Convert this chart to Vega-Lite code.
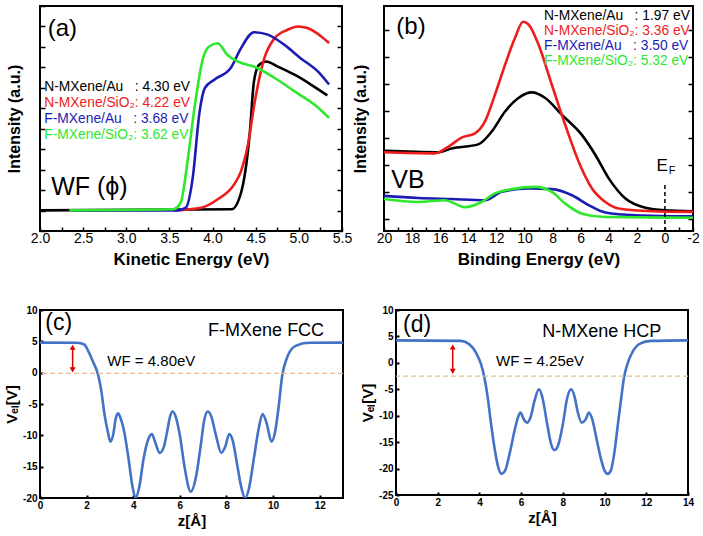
{
  "$schema": "https://vega.github.io/schema/vega-lite/v6.json",
  "padding": {"left": 3, "top": 4, "right": 2, "bottom": 2},
  "background": "white",
  "config": {
    "font": "Liberation Sans",
    "view": {"stroke": "black", "strokeWidth": 2},
    "axis": {"grid": false, "domain": false, "labelColor": "black", "titleColor": "black", "tickColor": "black", "labelFont": "Liberation Sans", "titleFont": "Liberation Sans", "labelOverlap": false, "labelFlush": false}
  },
  "datasets": {
    "wf": [
      {"series": "N-MXene/Au", "ke": 2.0, "intensity": 1.01},
      {"series": "N-MXene/Au", "ke": 4.22, "intensity": 1.06},
      {"series": "N-MXene/Au", "ke": 4.33, "intensity": 1.87},
      {"series": "N-MXene/Au", "ke": 4.43, "intensity": 4.72},
      {"series": "N-MXene/Au", "ke": 4.48, "intensity": 7.32},
      {"series": "N-MXene/Au", "ke": 4.54, "intensity": 8.13},
      {"series": "N-MXene/Au", "ke": 4.62, "intensity": 8.29},
      {"series": "N-MXene/Au", "ke": 4.75, "intensity": 8.05},
      {"series": "N-MXene/Au", "ke": 4.95, "intensity": 7.64},
      {"series": "N-MXene/Au", "ke": 5.14, "intensity": 7.16},
      {"series": "N-MXene/Au", "ke": 5.33, "intensity": 6.63},
      {"series": "N-MXene/SiO2", "ke": 3.55, "intensity": 1.01},
      {"series": "N-MXene/SiO2", "ke": 3.87, "intensity": 1.14},
      {"series": "N-MXene/SiO2", "ke": 4.06, "intensity": 1.55},
      {"series": "N-MXene/SiO2", "ke": 4.25, "intensity": 2.28},
      {"series": "N-MXene/SiO2", "ke": 4.33, "intensity": 2.93},
      {"series": "N-MXene/SiO2", "ke": 4.41, "intensity": 4.23},
      {"series": "N-MXene/SiO2", "ke": 4.49, "intensity": 6.34},
      {"series": "N-MXene/SiO2", "ke": 4.6, "intensity": 8.45},
      {"series": "N-MXene/SiO2", "ke": 4.72, "intensity": 9.43},
      {"series": "N-MXene/SiO2", "ke": 4.87, "intensity": 9.84},
      {"series": "N-MXene/SiO2", "ke": 4.99, "intensity": 10.0},
      {"series": "N-MXene/SiO2", "ke": 5.1, "intensity": 9.92},
      {"series": "N-MXene/SiO2", "ke": 5.26, "intensity": 9.51},
      {"series": "N-MXene/SiO2", "ke": 5.35, "intensity": 9.19},
      {"series": "F-MXene/Au", "ke": 2.35, "intensity": 1.01},
      {"series": "F-MXene/Au", "ke": 3.6, "intensity": 1.01},
      {"series": "F-MXene/Au", "ke": 3.69, "intensity": 1.14},
      {"series": "F-MXene/Au", "ke": 3.77, "intensity": 2.6},
      {"series": "F-MXene/Au", "ke": 3.85, "intensity": 5.85},
      {"series": "F-MXene/Au", "ke": 3.91, "intensity": 6.99},
      {"series": "F-MXene/Au", "ke": 4.02, "intensity": 7.4},
      {"series": "F-MXene/Au", "ke": 4.21, "intensity": 7.97},
      {"series": "F-MXene/Au", "ke": 4.33, "intensity": 8.94},
      {"series": "F-MXene/Au", "ke": 4.48, "intensity": 9.72},
      {"series": "F-MXene/Au", "ke": 4.64, "intensity": 9.6},
      {"series": "F-MXene/Au", "ke": 4.83, "intensity": 9.11},
      {"series": "F-MXene/Au", "ke": 5.02, "intensity": 8.45},
      {"series": "F-MXene/Au", "ke": 5.22, "intensity": 7.8},
      {"series": "F-MXene/Au", "ke": 5.35, "intensity": 7.16},
      {"series": "F-MXene/SiO2", "ke": 2.34, "intensity": 1.01},
      {"series": "F-MXene/SiO2", "ke": 3.54, "intensity": 1.06},
      {"series": "F-MXene/SiO2", "ke": 3.63, "intensity": 1.38},
      {"series": "F-MXene/SiO2", "ke": 3.71, "intensity": 3.41},
      {"series": "F-MXene/SiO2", "ke": 3.79, "intensity": 6.01},
      {"series": "F-MXene/SiO2", "ke": 3.89, "intensity": 8.45},
      {"series": "F-MXene/SiO2", "ke": 3.96, "intensity": 9.02},
      {"series": "F-MXene/SiO2", "ke": 4.06, "intensity": 9.18},
      {"series": "F-MXene/SiO2", "ke": 4.17, "intensity": 8.62},
      {"series": "F-MXene/SiO2", "ke": 4.29, "intensity": 8.29},
      {"series": "F-MXene/SiO2", "ke": 4.52, "intensity": 7.97},
      {"series": "F-MXene/SiO2", "ke": 4.72, "intensity": 7.48},
      {"series": "F-MXene/SiO2", "ke": 4.95, "intensity": 6.83},
      {"series": "F-MXene/SiO2", "ke": 5.18, "intensity": 6.18},
      {"series": "F-MXene/SiO2", "ke": 5.35, "intensity": 5.53}
    ],
    "vb": [
      {"series": "N-MXene/Au", "be": 20, "intensity": 35.6},
      {"series": "N-MXene/Au", "be": 16.14, "intensity": 35.0},
      {"series": "N-MXene/Au", "be": 15.19, "intensity": 36.7},
      {"series": "N-MXene/Au", "be": 13.29, "intensity": 38.5},
      {"series": "N-MXene/Au", "be": 12.33, "intensity": 44.2},
      {"series": "N-MXene/Au", "be": 11.38, "intensity": 53.1},
      {"series": "N-MXene/Au", "be": 10.43, "intensity": 59.1},
      {"series": "N-MXene/Au", "be": 9.48, "intensity": 61.6},
      {"series": "N-MXene/Au", "be": 8.52, "intensity": 59.1},
      {"series": "N-MXene/Au", "be": 7.33, "intensity": 51.6},
      {"series": "N-MXene/Au", "be": 5.9, "intensity": 42.6},
      {"series": "N-MXene/Au", "be": 4.95, "intensity": 33.8},
      {"series": "N-MXene/Au", "be": 4.0, "intensity": 23.4},
      {"series": "N-MXene/Au", "be": 2.81, "intensity": 14.4},
      {"series": "N-MXene/Au", "be": 1.38, "intensity": 10.3},
      {"series": "N-MXene/Au", "be": 0, "intensity": 9.2},
      {"series": "N-MXene/Au", "be": -2, "intensity": 8.8},
      {"series": "N-MXene/SiO2", "be": 20, "intensity": 35.0},
      {"series": "N-MXene/SiO2", "be": 16.38, "intensity": 34.5},
      {"series": "N-MXene/SiO2", "be": 15.43, "intensity": 37.4},
      {"series": "N-MXene/SiO2", "be": 14.48, "intensity": 41.5},
      {"series": "N-MXene/SiO2", "be": 13.52, "intensity": 43.4},
      {"series": "N-MXene/SiO2", "be": 12.81, "intensity": 48.7},
      {"series": "N-MXene/SiO2", "be": 12.1, "intensity": 60.6},
      {"series": "N-MXene/SiO2", "be": 11.38, "intensity": 73.9},
      {"series": "N-MXene/SiO2", "be": 10.67, "intensity": 85.9},
      {"series": "N-MXene/SiO2", "be": 10.1, "intensity": 93.0},
      {"series": "N-MXene/SiO2", "be": 9.71, "intensity": 91.8},
      {"series": "N-MXene/SiO2", "be": 9.0, "intensity": 82.9},
      {"series": "N-MXene/SiO2", "be": 8.05, "intensity": 65.0},
      {"series": "N-MXene/SiO2", "be": 7.1, "intensity": 47.2},
      {"series": "N-MXene/SiO2", "be": 6.14, "intensity": 30.8},
      {"series": "N-MXene/SiO2", "be": 5.19, "intensity": 18.9},
      {"series": "N-MXene/SiO2", "be": 4.24, "intensity": 12.9},
      {"series": "N-MXene/SiO2", "be": 3.29, "intensity": 10.0},
      {"series": "N-MXene/SiO2", "be": 0.9, "intensity": 8.8},
      {"series": "N-MXene/SiO2", "be": -2, "intensity": 8.5},
      {"series": "F-MXene/Au", "be": 20, "intensity": 15.6},
      {"series": "F-MXene/Au", "be": 17.57, "intensity": 14.7},
      {"series": "F-MXene/Au", "be": 15.19, "intensity": 14.2},
      {"series": "F-MXene/Au", "be": 12.81, "intensity": 13.7},
      {"series": "F-MXene/Au", "be": 11.62, "intensity": 17.4},
      {"series": "F-MXene/Au", "be": 9.71, "intensity": 18.9},
      {"series": "F-MXene/Au", "be": 8.05, "intensity": 18.6},
      {"series": "F-MXene/Au", "be": 6.62, "intensity": 15.9},
      {"series": "F-MXene/Au", "be": 5.43, "intensity": 11.5},
      {"series": "F-MXene/Au", "be": 4.24, "intensity": 8.2},
      {"series": "F-MXene/Au", "be": 2.1, "intensity": 7.0},
      {"series": "F-MXene/Au", "be": -2, "intensity": 6.5},
      {"series": "F-MXene/SiO2", "be": 20, "intensity": 14.2},
      {"series": "F-MXene/SiO2", "be": 17.57, "intensity": 12.9},
      {"series": "F-MXene/SiO2", "be": 15.67, "intensity": 13.7},
      {"series": "F-MXene/SiO2", "be": 14.24, "intensity": 10.6},
      {"series": "F-MXene/SiO2", "be": 13.05, "intensity": 12.9},
      {"series": "F-MXene/SiO2", "be": 12.1, "intensity": 16.7},
      {"series": "F-MXene/SiO2", "be": 10.9, "intensity": 18.6},
      {"series": "F-MXene/SiO2", "be": 9.24, "intensity": 19.6},
      {"series": "F-MXene/SiO2", "be": 8.05, "intensity": 17.4},
      {"series": "F-MXene/SiO2", "be": 7.1, "intensity": 12.2},
      {"series": "F-MXene/SiO2", "be": 5.9, "intensity": 7.7},
      {"series": "F-MXene/SiO2", "be": 4.24, "intensity": 6.2},
      {"series": "F-MXene/SiO2", "be": -2, "intensity": 5.9}
    ],
    "fcc": [
      {"z": 0, "v": 4.8}, {"z": 1.6, "v": 4.78}, {"z": 1.9, "v": 4.5}, {"z": 2.05, "v": 3.6}, {"z": 2.27, "v": 1.8}, {"z": 2.49, "v": -0.3}, {"z": 2.63, "v": -2.9}, {"z": 2.77, "v": -6.7}, {"z": 2.92, "v": -9.6}, {"z": 3.02, "v": -11}, {"z": 3.14, "v": -9.9}, {"z": 3.25, "v": -7.3}, {"z": 3.35, "v": -6.5}, {"z": 3.45, "v": -7.2}, {"z": 3.6, "v": -9.2}, {"z": 3.79, "v": -13.5}, {"z": 3.97, "v": -18.2}, {"z": 4.1, "v": -20}, {"z": 4.25, "v": -18.4}, {"z": 4.45, "v": -13.6}, {"z": 4.65, "v": -10.6}, {"z": 4.8, "v": -9.8}, {"z": 4.95, "v": -11.2}, {"z": 5.13, "v": -12.8}, {"z": 5.3, "v": -12.0}, {"z": 5.45, "v": -9.5}, {"z": 5.58, "v": -7.0}, {"z": 5.69, "v": -6.2}, {"z": 5.82, "v": -7.0}, {"z": 6.0, "v": -10}, {"z": 6.2, "v": -15}, {"z": 6.47, "v": -19.0}, {"z": 6.7, "v": -16.5}, {"z": 6.9, "v": -11.5}, {"z": 7.05, "v": -7.5}, {"z": 7.2, "v": -6.2}, {"z": 7.35, "v": -7.0}, {"z": 7.55, "v": -10.0}, {"z": 7.78, "v": -12.8}, {"z": 7.95, "v": -11.8}, {"z": 8.12, "v": -9.8}, {"z": 8.28, "v": -11.0}, {"z": 8.45, "v": -14.5}, {"z": 8.65, "v": -18.5}, {"z": 8.8, "v": -20}, {"z": 8.97, "v": -18.4}, {"z": 9.18, "v": -13.6}, {"z": 9.38, "v": -9.0}, {"z": 9.55, "v": -6.6}, {"z": 9.72, "v": -8.0}, {"z": 9.93, "v": -11}, {"z": 10.08, "v": -9.6}, {"z": 10.22, "v": -6.0}, {"z": 10.4, "v": -0.3}, {"z": 10.6, "v": 2.4}, {"z": 10.85, "v": 4.0}, {"z": 11.2, "v": 4.6}, {"z": 11.6, "v": 4.78}, {"z": 13, "v": 4.8}
    ],
    "hcp": [
      {"z": 0, "v": 4.26}, {"z": 3.1, "v": 4.15}, {"z": 3.52, "v": 3.5}, {"z": 3.84, "v": 1.9}, {"z": 4.08, "v": -0.3}, {"z": 4.24, "v": -2.8}, {"z": 4.4, "v": -6.6}, {"z": 4.56, "v": -11.6}, {"z": 4.72, "v": -16.0}, {"z": 4.88, "v": -19.4}, {"z": 5.05, "v": -21.0}, {"z": 5.23, "v": -20.4}, {"z": 5.44, "v": -17.3}, {"z": 5.68, "v": -12.9}, {"z": 5.84, "v": -10.4}, {"z": 5.97, "v": -9.4}, {"z": 6.13, "v": -10.7}, {"z": 6.3, "v": -11.3}, {"z": 6.45, "v": -10.3}, {"z": 6.64, "v": -7.2}, {"z": 6.85, "v": -5.0}, {"z": 7.01, "v": -6.4}, {"z": 7.25, "v": -11.6}, {"z": 7.44, "v": -15.4}, {"z": 7.6, "v": -16.5}, {"z": 7.79, "v": -15.4}, {"z": 8.0, "v": -11.6}, {"z": 8.21, "v": -6.6}, {"z": 8.4, "v": -5.0}, {"z": 8.56, "v": -6.4}, {"z": 8.72, "v": -9.4}, {"z": 8.9, "v": -11.3}, {"z": 9.09, "v": -10.7}, {"z": 9.25, "v": -9.4}, {"z": 9.41, "v": -10.7}, {"z": 9.6, "v": -14.1}, {"z": 9.81, "v": -17.9}, {"z": 10.0, "v": -20.4}, {"z": 10.15, "v": -21.0}, {"z": 10.3, "v": -20.4}, {"z": 10.48, "v": -16.7}, {"z": 10.64, "v": -11.6}, {"z": 10.8, "v": -6.6}, {"z": 10.93, "v": -2.8}, {"z": 11.09, "v": -0.3}, {"z": 11.36, "v": 2.2}, {"z": 11.68, "v": 3.6}, {"z": 12.24, "v": 4.15}, {"z": 14, "v": 4.26}
    ]
  },
  "spacing": 36,
  "vconcat": [
    {
      "bounds": "flush",
      "spacing": 42,
      "hconcat": [
        {
          "width": 302,
          "height": 225,
          "resolve": {"axis": {"y": "independent"}},
          "layer": [
            {
              "data": {"name": "wf"},
              "mark": {"type": "line", "strokeWidth": 2.6, "interpolate": "monotone"},
              "encoding": {
                "x": {"field": "ke", "type": "quantitative", "scale": {"domain": [2, 5.5], "nice": false, "zero": false},
                  "axis": {"values": [2, 2.25, 2.5, 2.75, 3, 3.25, 3.5, 3.75, 4, 4.25, 4.5, 4.75, 5, 5.25, 5.5], "tickCount": 100, "labelExpr": "datum.value % 0.5 === 0 ? format(datum.value, '.1f') : ''", "labelOverlap": false, "labelFontSize": 14, "labelPadding": 4, "tickSize": -4, "tickWidth": 1.5, "title": "Kinetic Energy (eV)", "titleFontSize": 17, "titleFontWeight": "bold", "titlePadding": 6}},
                "y": {"field": "intensity", "type": "quantitative", "scale": {"domain": [0, 11], "nice": false},
                  "axis": {"values": [0, 1, 2, 3, 4, 5, 6, 7, 8, 9, 10, 11], "tickCount": 100, "labels": false, "tickSize": -5, "tickWidth": 1.5, "title": "Intensity (a.u.)", "titleFontSize": 16, "titleFontWeight": "bold", "titlePadding": 17}},
                "color": {"field": "series", "type": "nominal", "scale": {"domain": ["N-MXene/Au", "N-MXene/SiO2", "F-MXene/Au", "F-MXene/SiO2"], "range": ["#000000", "#ee1c1c", "#1c1cb4", "#2ee82e"]}, "legend": null}
              }
            },
            {
              "data": {"values": [
                {"series": "N-MXene/Au", "label": "N-MXene/Au\u00a0\u00a0\u00a0: 4.30 eV", "ke": 2.05, "intensity": 7.02},
                {"series": "N-MXene/SiO2", "label": "N-MXene/SiO\u2082: 4.22 eV", "ke": 2.05, "intensity": 6.24},
                {"series": "F-MXene/Au", "label": "F-MXene/Au\u00a0\u00a0\u00a0: 3.68 eV", "ke": 2.05, "intensity": 5.46},
                {"series": "F-MXene/SiO2", "label": "F-MXene/SiO\u2082: 3.62 eV", "ke": 2.05, "intensity": 4.68}
              ]},
              "mark": {"type": "text", "align": "left", "baseline": "middle", "fontSize": 13.8},
              "encoding": {
                "x": {"field": "ke", "type": "quantitative"},
                "y": {"field": "intensity", "type": "quantitative", "axis": null},
                "text": {"field": "label"},
                "color": {"field": "series", "type": "nominal", "legend": null}
              }
            },
            {
              "data": {"values": [{"label": "(a)", "ke": 2.09, "intensity": 9.9}]},
              "mark": {"type": "text", "align": "left", "baseline": "middle", "fontSize": 24, "color": "black"},
              "encoding": {
                "x": {"field": "ke", "type": "quantitative"},
                "y": {"field": "intensity", "type": "quantitative", "axis": {"orient": "right", "values": [0, 1, 2, 3, 4, 5, 6, 7, 8, 9, 10, 11], "tickCount": 100, "labels": false, "tickSize": -5, "tickWidth": 1.5, "title": null}},
                "text": {"field": "label"}
              }
            },
            {
              "data": {"values": [{"label": "WF (\u03d5)", "ke": 2.13, "intensity": 2.15}]},
              "mark": {"type": "text", "align": "left", "baseline": "middle", "fontSize": 25, "color": "black"},
              "encoding": {
                "x": {"field": "ke", "type": "quantitative"},
                "y": {"field": "intensity", "type": "quantitative", "axis": null},
                "text": {"field": "label"}
              }
            }
          ]
        },
        {
          "width": 309,
          "height": 225,
          "resolve": {"axis": {"y": "independent"}},
          "layer": [
            {
              "data": {"name": "vb"},
              "mark": {"type": "line", "strokeWidth": 2.6, "interpolate": "monotone"},
              "encoding": {
                "x": {"field": "be", "type": "quantitative", "scale": {"domain": [-2, 20], "reverse": true, "nice": false, "zero": false},
                  "axis": {"values": [-2, -1, 0, 1, 2, 3, 4, 5, 6, 7, 8, 9, 10, 11, 12, 13, 14, 15, 16, 17, 18, 19, 20], "tickCount": 100, "labelExpr": "datum.value % 2 === 0 ? replace(format(datum.value, 'd'), '\u2212', '-') : ''", "labelOverlap": false, "labelFontSize": 14, "labelPadding": 4, "tickSize": -4, "tickWidth": 1.5, "title": "Binding Energy (eV)", "titleFontSize": 17, "titleFontWeight": "bold", "titlePadding": 6}},
                "y": {"field": "intensity", "type": "quantitative", "scale": {"domain": [0, 100], "nice": false},
                  "axis": {"values": [5.5, 17.5, 29.4, 41.4, 53.3, 65.3, 77.3, 89.2], "tickCount": 100, "labels": false, "tickSize": -5, "tickWidth": 1.5, "title": "Intensity (a.u.)", "titleFontSize": 16, "titleFontWeight": "bold", "titlePadding": 15}},
                "color": {"field": "series", "type": "nominal", "scale": {"domain": ["N-MXene/Au", "N-MXene/SiO2", "F-MXene/Au", "F-MXene/SiO2"], "range": ["#000000", "#ee1c1c", "#1c1cb4", "#2ee82e"]}, "legend": null}
              }
            },
            {
              "data": {"values": [{"be": 0, "i1": 0, "i2": 21}]},
              "mark": {"type": "rule", "color": "black", "strokeWidth": 1.5, "strokeDash": [4, 3]},
              "encoding": {
                "x": {"field": "be", "type": "quantitative"},
                "y": {"field": "i1", "type": "quantitative", "axis": null},
                "y2": {"field": "i2"}
              }
            },
            {
              "data": {"values": [
                {"series": "N-MXene/Au", "label": "N-MXene/Au\u00a0\u00a0\u00a0: 1.97 eV", "be": 8.6, "intensity": 95.5},
                {"series": "N-MXene/SiO2", "label": "N-MXene/SiO\u2082: 3.36 eV", "be": 8.6, "intensity": 88.8},
                {"series": "F-MXene/Au", "label": "F-MXene/Au\u00a0\u00a0\u00a0: 3.50 eV", "be": 8.6, "intensity": 82.1},
                {"series": "F-MXene/SiO2", "label": "F-MXene/SiO\u2082: 5.32 eV", "be": 8.6, "intensity": 75.4}
              ]},
              "mark": {"type": "text", "align": "left", "baseline": "middle", "fontSize": 13.8},
              "encoding": {
                "x": {"field": "be", "type": "quantitative"},
                "y": {"field": "intensity", "type": "quantitative", "axis": null},
                "text": {"field": "label"},
                "color": {"field": "series", "type": "nominal", "legend": null}
              }
            },
            {
              "data": {"values": [{"label": "(b)", "be": 19.12, "intensity": 90.6}]},
              "mark": {"type": "text", "align": "left", "baseline": "middle", "fontSize": 24, "color": "black"},
              "encoding": {
                "x": {"field": "be", "type": "quantitative"},
                "y": {"field": "intensity", "type": "quantitative", "axis": {"orient": "right", "values": [5.5, 17.5, 29.4, 41.4, 53.3, 65.3, 77.3, 89.2], "tickCount": 100, "labels": false, "tickSize": -5, "tickWidth": 1.5, "title": null}},
                "text": {"field": "label"}
              }
            },
            {
              "data": {"values": [{"label": "VB", "be": 19.48, "intensity": 22.5}]},
              "mark": {"type": "text", "align": "left", "baseline": "middle", "fontSize": 25, "color": "black"},
              "encoding": {
                "x": {"field": "be", "type": "quantitative"},
                "y": {"field": "intensity", "type": "quantitative", "axis": null},
                "text": {"field": "label"}
              }
            },
            {
              "data": {"values": [{"label": "E", "be": 0.19, "intensity": 28.9}]},
              "mark": {"type": "text", "align": "center", "baseline": "middle", "fontSize": 17, "color": "black"},
              "encoding": {
                "x": {"field": "be", "type": "quantitative"},
                "y": {"field": "intensity", "type": "quantitative", "axis": null},
                "text": {"field": "label"}
              }
            },
            {
              "data": {"values": [{"label": "F", "be": -0.52, "intensity": 26.6}]},
              "mark": {"type": "text", "align": "center", "baseline": "middle", "fontSize": 11, "color": "black"},
              "encoding": {
                "x": {"field": "be", "type": "quantitative"},
                "y": {"field": "intensity", "type": "quantitative", "axis": null},
                "text": {"field": "label"}
              }
            }
          ]
        }
      ]
    },
    {
      "bounds": "flush",
      "spacing": 53,
      "hconcat": [
        {
          "width": 303,
          "height": 188,
          "layer": [
            {
              "data": {"name": "fcc"},
              "mark": {"type": "line", "color": "#4472c4", "strokeWidth": 2.6, "interpolate": "monotone", "clip": true},
              "encoding": {
                "x": {"field": "z", "type": "quantitative", "scale": {"domain": [0, 13], "nice": false},
                  "axis": {"values": [0, 2, 4, 6, 8, 10, 12], "tickCount": 100, "format": "d", "labelOverlap": false, "labelFontSize": 10, "labelFontWeight": "bold", "labelPadding": 5, "tickSize": -3, "tickWidth": 2, "title": "z[\u00c5]", "titleFontSize": 15, "titleFontWeight": "bold", "titlePadding": 3}},
                "y": {"field": "v", "type": "quantitative", "scale": {"domain": [-20, 10], "nice": false},
                  "axis": {"values": [-20, -15, -10, -5, 0, 5, 10], "tickCount": 100, "labelExpr": "replace(format(datum.value, 'd'), '\u2212', '-')", "labelOverlap": false, "labelFontSize": 10, "labelFontWeight": "bold", "labelPadding": 6, "tickSize": -3, "tickWidth": 2, "title": "V\u2091\u2097[V]", "titleFontSize": 15, "titleFontWeight": "bold", "titlePadding": 3}}
              }
            },
            {
              "data": {"values": [{"v": -0.1}]},
              "mark": {"type": "rule", "color": "#e8b89c", "strokeWidth": 1.3, "strokeDash": [5, 3]},
              "encoding": {"y": {"field": "v", "type": "quantitative"}}
            },
            {
              "data": {"values": [{"z": 1.4, "v1": 4.2, "v2": 0.3}]},
              "mark": {"type": "rule", "color": "#e00000", "strokeWidth": 1.5},
              "encoding": {
                "x": {"field": "z", "type": "quantitative"},
                "y": {"field": "v1", "type": "quantitative"},
                "y2": {"field": "v2"}
              }
            },
            {
              "data": {"values": [{"z": 1.4, "v": 4.05, "dir": "up"}, {"z": 1.4, "v": 0.45, "dir": "down"}]},
              "mark": {"type": "point", "filled": true, "color": "#e00000", "size": 35, "opacity": 1},
              "encoding": {
                "x": {"field": "z", "type": "quantitative"},
                "y": {"field": "v", "type": "quantitative"},
                "shape": {"field": "dir", "type": "nominal", "scale": {"domain": ["up", "down"], "range": ["triangle-up", "triangle-down"]}, "legend": null}
              }
            },
            {
              "data": {"values": [{"label": "(c)", "z": 0.23, "v": 7.9}]},
              "mark": {"type": "text", "align": "left", "baseline": "middle", "fontSize": 23, "color": "black"},
              "encoding": {"x": {"field": "z", "type": "quantitative"}, "y": {"field": "v", "type": "quantitative"}, "text": {"field": "label"}}
            },
            {
              "data": {"values": [{"label": "F-MXene FCC", "z": 12.19, "v": 6.65}]},
              "mark": {"type": "text", "align": "right", "baseline": "middle", "fontSize": 18, "color": "black"},
              "encoding": {"x": {"field": "z", "type": "quantitative"}, "y": {"field": "v", "type": "quantitative"}, "text": {"field": "label"}}
            },
            {
              "data": {"values": [{"label": "WF = 4.80eV", "z": 2.89, "v": 1.85}]},
              "mark": {"type": "text", "align": "left", "baseline": "middle", "fontSize": 15, "color": "black"},
              "encoding": {"x": {"field": "z", "type": "quantitative"}, "y": {"field": "v", "type": "quantitative"}, "text": {"field": "label"}}
            }
          ]
        },
        {
          "width": 292,
          "height": 185,
          "layer": [
            {
              "data": {"name": "hcp"},
              "mark": {"type": "line", "color": "#4472c4", "strokeWidth": 2.6, "interpolate": "monotone", "clip": true},
              "encoding": {
                "x": {"field": "z", "type": "quantitative", "scale": {"domain": [0, 14], "nice": false},
                  "axis": {"values": [0, 2, 4, 6, 8, 10, 12, 14], "tickCount": 100, "format": "d", "labelOverlap": false, "labelFontSize": 10, "labelFontWeight": "bold", "labelPadding": 5, "tickSize": -3, "tickWidth": 2, "title": "z[\u00c5]", "titleFontSize": 15, "titleFontWeight": "bold", "titlePadding": 3}},
                "y": {"field": "v", "type": "quantitative", "scale": {"domain": [-25, 10], "nice": false},
                  "axis": {"values": [-25, -20, -15, -10, -5, 0, 5, 10], "tickCount": 100, "labelExpr": "replace(format(datum.value, 'd'), '\u2212', '-')", "labelOverlap": false, "labelFontSize": 10, "labelFontWeight": "bold", "labelPadding": 6, "tickSize": -3, "tickWidth": 2, "title": "V\u2091\u2097[V]", "titleFontSize": 15, "titleFontWeight": "bold", "titlePadding": 3}}
              }
            },
            {
              "data": {"values": [{"v": -2.5}]},
              "mark": {"type": "rule", "color": "#e2c08c", "strokeWidth": 1.3, "strokeDash": [5, 3]},
              "encoding": {"y": {"field": "v", "type": "quantitative"}}
            },
            {
              "data": {"values": [{"z": 2.72, "v1": 3.2, "v2": -1.7}]},
              "mark": {"type": "rule", "color": "#e00000", "strokeWidth": 1.5},
              "encoding": {
                "x": {"field": "z", "type": "quantitative"},
                "y": {"field": "v1", "type": "quantitative"},
                "y2": {"field": "v2"}
              }
            },
            {
              "data": {"values": [{"z": 2.72, "v": 3.0, "dir": "up"}, {"z": 2.72, "v": -1.6, "dir": "down"}]},
              "mark": {"type": "point", "filled": true, "color": "#e00000", "size": 35, "opacity": 1},
              "encoding": {
                "x": {"field": "z", "type": "quantitative"},
                "y": {"field": "v", "type": "quantitative"},
                "shape": {"field": "dir", "type": "nominal", "scale": {"domain": ["up", "down"], "range": ["triangle-up", "triangle-down"]}, "legend": null}
              }
            },
            {
              "data": {"values": [{"label": "(d)", "z": 0.34, "v": 7.16}]},
              "mark": {"type": "text", "align": "left", "baseline": "middle", "fontSize": 23, "color": "black"},
              "encoding": {"x": {"field": "z", "type": "quantitative"}, "y": {"field": "v", "type": "quantitative"}, "text": {"field": "label"}}
            },
            {
              "data": {"values": [{"label": "N-MXene HCP", "z": 12.72, "v": 5.93}]},
              "mark": {"type": "text", "align": "right", "baseline": "middle", "fontSize": 18, "color": "black"},
              "encoding": {"x": {"field": "z", "type": "quantitative"}, "y": {"field": "v", "type": "quantitative"}, "text": {"field": "label"}}
            },
            {
              "data": {"values": [{"label": "WF = 4.25eV", "z": 4.8, "v": 0.26}]},
              "mark": {"type": "text", "align": "left", "baseline": "middle", "fontSize": 15, "color": "black"},
              "encoding": {"x": {"field": "z", "type": "quantitative"}, "y": {"field": "v", "type": "quantitative"}, "text": {"field": "label"}}
            }
          ]
        }
      ]
    }
  ]
}
